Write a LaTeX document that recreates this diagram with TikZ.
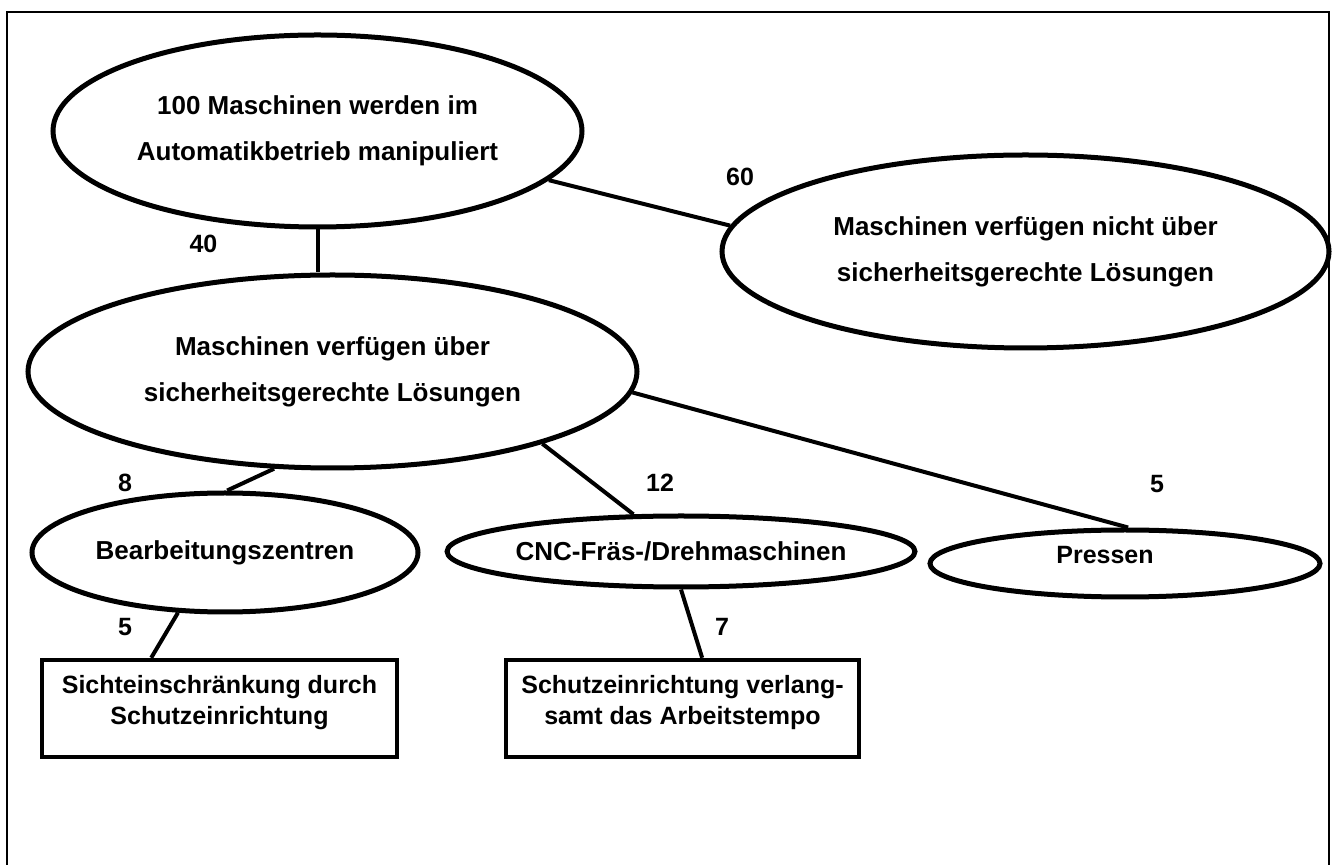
\documentclass[tikz,border=0pt]{standalone}
\usepackage{fontspec}
\setmainfont{Liberation Sans}
\usepackage{tikz}
\usetikzlibrary{shapes.geometric,calc}
\newcommand{\lowpad}{\rule[-9pt]{0pt}{9pt}}
\tikzset{
  oval/.style={draw, ellipse, line width=2.5pt, inner sep=0pt, align=center,
               font=\fontsize{13}{23}\selectfont\bfseries},
  resultbox/.style={draw, rectangle, line width=2.2pt, inner sep=0pt, align=center,
               minimum height=48.5pt, font=\fontsize{12.5}{15.5}\selectfont\bfseries},
  link/.style={line width=2pt},
  count/.style={inner sep=0pt, font=\fontsize{12.5}{15}\selectfont\bfseries},
}

\begin{document}
\begin{tikzpicture}[x=0.5pt, y=-0.5pt]
  \useasboundingbox (0,0) rectangle (1334,865);
  % frame, open at the bottom
  \draw[line width=1pt] (7,865) -- (7,12) -- (1329,12) -- (1329,865);

  % Top level
  \node[oval, minimum width=264.5pt, minimum height=96pt] (all) at (317.5,131)
    {100 Maschinen werden im\\Automatikbetrieb manipuliert};
  \node[oval, minimum width=303.5pt, minimum height=96.5pt] (nosafe) at (1025.5,251.5)
    {Maschinen verfügen nicht über\\sicherheitsgerechte Lösungen};
  \node[oval, minimum width=304.5pt, minimum height=96.5pt] (safe) at (332.5,371.5)
    {Maschinen verfügen über\\sicherheitsgerechte Lösungen};

  \draw[link] (all.-12.6) -- (nosafe.175.5);
  \draw[link] (all.south) -- (all.south |- safe.north);
  \node[count] (n60) at (740,177) {60};
  \node[count] (n40) at (203.5,243.5) {40};

  % Machine types
  \node[oval, minimum width=193pt, minimum height=59.5pt] (bearb) at (225,552.5)
    {Bearbeitungszentren};
  \node[oval, minimum width=194pt, minimum height=35.5pt] (cnc) at (681,551.5)
    {CNC-Fräs-/Drehmaschinen};
  \node[oval, minimum width=195pt, minimum height=33.5pt,
        label={[count, xshift=-10pt, yshift=4.25pt]center:Pressen}] (presse) at (1125,563.5) {};

  \draw[link] (safe.-121.1) -- (bearb.88);
  \draw[link] (safe.-19.7) -- (cnc.142.7);
  \draw[link] (safe.-4.5) -- (presse.85);
  \node[count] (n8) at (125,483) {8};
  \node[count] (n12) at (660,483) {12};
  \node[count] (n5a) at (1157,484) {5};

  % Reasons
  \node[resultbox, minimum width=177.5pt] (sicht) at (219.5,708.5)
    {Sichteinschränkung durch\\Schutzeinrichtung\lowpad};
  \node[resultbox, minimum width=176.5pt] (tempo) at (682.5,708.5)
    {Schutzeinrichtung verlang-\\samt das Arbeitstempo\lowpad};

  \draw[link] (bearb.-128.4) -- ($(sicht.north west)!0.31!(sicht.north east)$);
  \draw[link] (cnc.south) -- ($(tempo.north west)!0.555!(tempo.north east)$);
  \node[count] (n5b) at (125,627) {5};
  \node[count] (n7) at (722,627) {7};
\end{tikzpicture}
\end{document}
